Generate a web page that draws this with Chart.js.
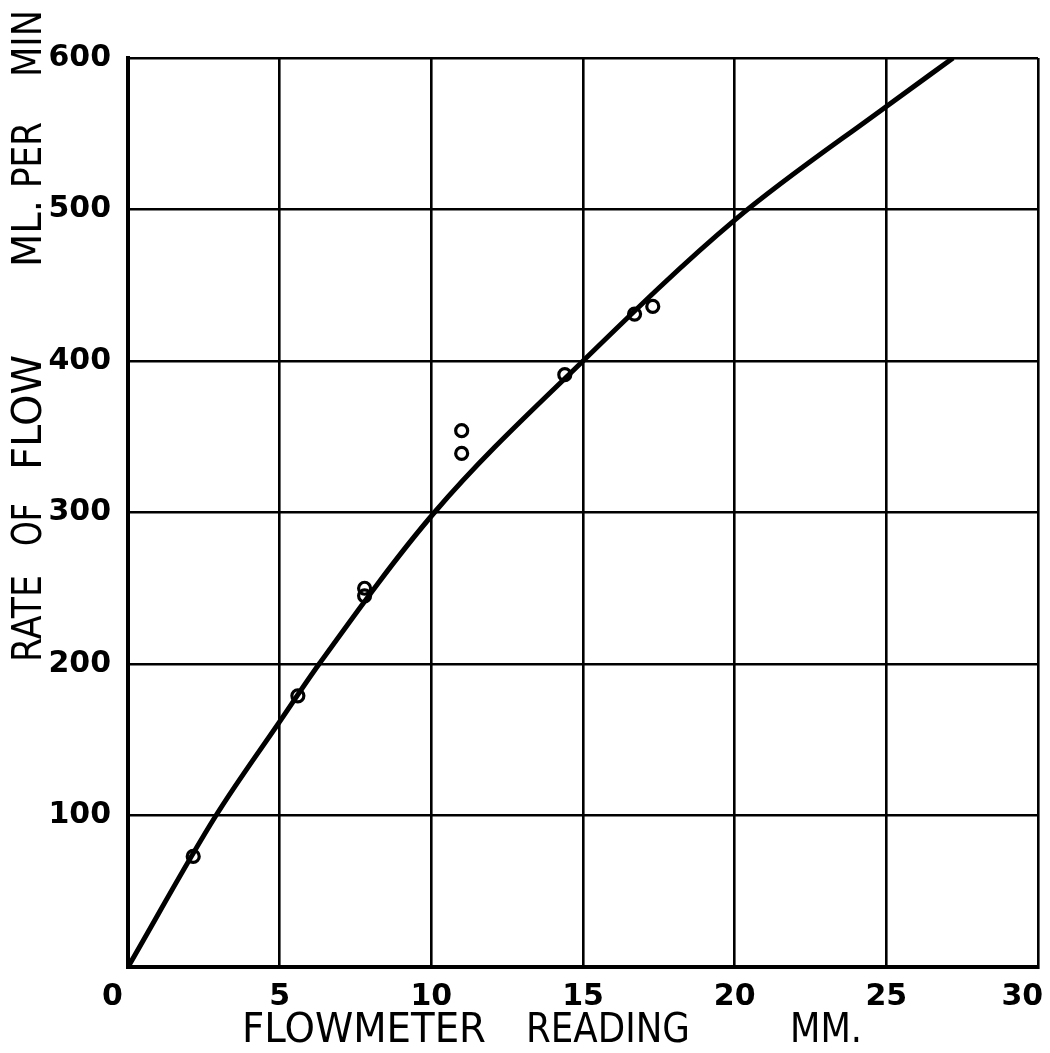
<!DOCTYPE html>
<html>
<head>
<meta charset="utf-8">
<script src="https://cdn.jsdelivr.net/npm/chart.js@4"></script>
<style>
  html, body { margin: 0; padding: 0; background: #fff; }
  #wrap { width: 1050px; height: 1053px; position: relative; }
</style>
</head>
<body>
<div id="wrap"><canvas id="flowChart"></canvas></div>
<script>
// observed points (flowmeter reading mm, rate of flow ml/min)
const readingMM = [2.15, 5.6, 7.8, 7.8, 11.0, 11.0, 14.4, 16.7, 17.3];
const flowMl = [73, 179, 250, 245, 354, 339, 391, 431, 436];

// calibration curve
const curveMM = [0, 2.9, 5.0, 6.3, 10.1, 15.0, 20.0, 25.0, 27.2];
const curveMl = [0, 100, 162, 200, 300, 400, 493, 568, 600];

const xTicks = [0, 5, 10, 15, 20, 25, 30];
const yTicks = [0, 100, 200, 300, 400, 500, 600];

// axis title words with the span each one covers in the drawing
const xTitleWords = ['FLOWMETER', 'READING', 'MM.'];
const xTitleSpans = [[242, 486], [526, 690], [790, 862]];
const yTitleWords = ['RATE', 'OF', 'FLOW', 'ML.', 'PER', 'MIN'];
const yTitleSpans = [[575, 662], [503, 546], [355, 470], [200, 267], [122, 188], [10, 77]];

const FONT = "'DejaVu Sans', sans-serif";

// squeeze a word into its span, like the condensed hand lettering
function fitWord(ctx, text, from, to) {
    const w = ctx.measureText(text).width;
    const sx = (to - from) / w;
    ctx.save();
    ctx.translate(from, 0);
    ctx.scale(sx, 1);
    ctx.fillText(text, 0, 0);
    ctx.restore();
}

const letteredTitles = {
    id: 'letteredTitles',
    afterDraw(chart) {
        const ctx = chart.ctx;
        ctx.save();
        ctx.fillStyle = '#000';
        ctx.font = '40px ' + FONT;
        ctx.textBaseline = 'middle';
        ctx.textAlign = 'left';

        ctx.save();
        ctx.translate(0, 1032);
        xTitleWords.forEach((w, i) => fitWord(ctx, w, xTitleSpans[i][0], xTitleSpans[i][1]));
        ctx.restore();

        ctx.save();
        ctx.translate(31, 0);
        ctx.rotate(-Math.PI / 2);
        // after rotation the text runs upward; page y maps to -x
        yTitleWords.forEach((w, i) => fitWord(ctx, w, -yTitleSpans[i][1], -yTitleSpans[i][0]));
        ctx.restore();

        ctx.restore();
    }
};

// the end labels of the x axis sit a little left of their grid lines
const NB = '\u00a0\u00a0\u00a0';

const ctx = document.getElementById('flowChart');
new Chart(ctx, {
    type: 'scatter',
    data: {
        datasets: [
            {
                label: 'curve',
                data: curveMM.map((x, i) => ({ x: x, y: curveMl[i] })),
                showLine: true,
                borderColor: '#000',
                borderWidth: 5,
                pointRadius: 0,
                cubicInterpolationMode: 'monotone',
                order: 2
            },
            {
                label: 'observed',
                data: readingMM.map((x, i) => ({ x: x, y: flowMl[i] })),
                showLine: false,
                pointStyle: 'circle',
                pointRadius: 6,
                pointBorderWidth: 3.2,
                borderColor: '#000',
                backgroundColor: 'rgba(255,255,255,0)',
                order: 1
            }
        ]
    },
    options: {
        responsive: true,
        maintainAspectRatio: false,
        animation: false,
        layout: { padding: { top: 58, right: 12, left: 0, bottom: 0 } },
        plugins: {
            legend: { display: false },
            tooltip: { enabled: false }
        },
        scales: {
            x: {
                type: 'linear',
                min: 0,
                max: 30,
                afterBuildTicks: (axis) => { axis.ticks = xTicks.map(v => ({ value: v })); },
                afterFit: (axis) => {
                    axis.height = 86;
                    axis.paddingLeft = 0;
                    axis.paddingRight = 0;
                },
                ticks: {
                    color: '#000',
                    font: { family: FONT, size: 30, weight: 'bold' },
                    padding: 12,
                    maxRotation: 0,
                    callback: (v) => (v === 0 || v === 30) ? v + NB : '' + v
                },
                grid: { color: '#000', lineWidth: 2.6, drawTicks: false },
                border: { color: '#000', width: 4 }
            },
            y: {
                type: 'linear',
                min: 0,
                max: 600,
                afterBuildTicks: (axis) => { axis.ticks = yTicks.map(v => ({ value: v })); },
                afterFit: (axis) => {
                    axis.width = 128;
                    axis.paddingTop = 0;
                    axis.paddingBottom = 0;
                },
                ticks: {
                    color: '#000',
                    font: { family: FONT, size: 30, weight: 'bold' },
                    padding: 17,
                    callback: (v) => v === 0 ? '' : v
                },
                grid: { color: '#000', lineWidth: 2.6, drawTicks: false },
                border: { color: '#000', width: 4 }
            }
        }
    },
    plugins: [letteredTitles]
});
</script>
</body>
</html>
